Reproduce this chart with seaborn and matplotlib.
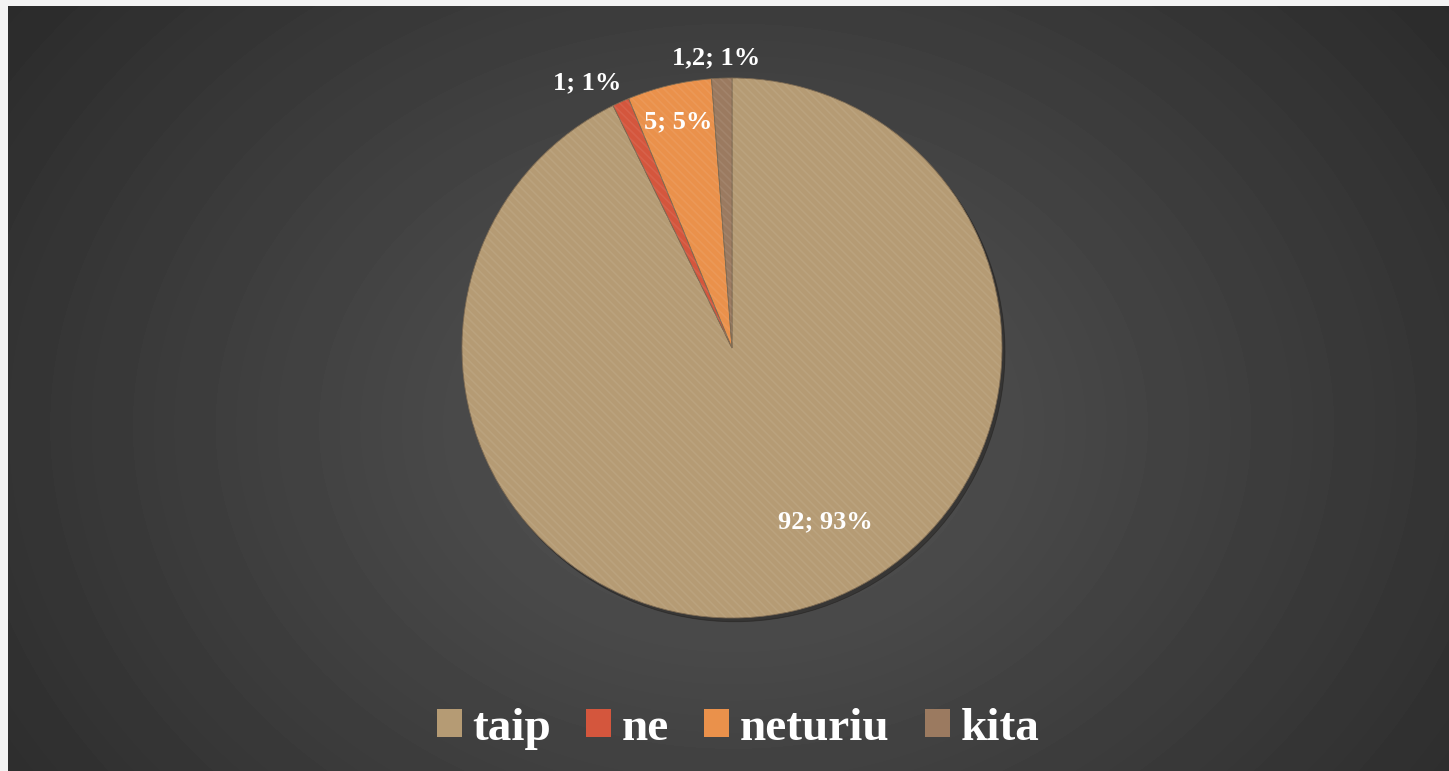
import numpy as np
import matplotlib
matplotlib.use("Agg")
import matplotlib.pyplot as plt
import seaborn as sns
from matplotlib.patches import Patch

# data
categories = ["taip", "ne", "neturiu", "kita"]
values = [92, 1, 5, 1.2]
colors = ["#b59b74", "#d4563d", "#ea914b", "#9b7a60"]

sns.set_style("dark")
plt.rcParams['font.family'] = ['Liberation Serif', 'DejaVu Serif']
plt.rcParams['hatch.linewidth'] = 1.2

fig = plt.figure(figsize=(14.49, 7.71), dpi=100, facecolor="#f3f3f3")

# dark radial gradient background
bg = fig.add_axes([8/1449, 0, 1441/1449, 765/771])
ny, nx = 765, 1441
yy, xx = np.mgrid[0:ny, 0:nx]
d = np.sqrt(((xx - 725) / 900) ** 2 + ((yy - 420) / 700) ** 2)
shade = 0.34 - 0.17 * np.clip(d, 0, 1)
bg.imshow(shade, cmap="gray", vmin=0, vmax=1, aspect="auto", interpolation="bilinear")
bg.axis("off")

# pie
ax = fig.add_axes([462/1449, (771 - 348 - 270)/771, 540/1449, 540/771])
ax.set_facecolor("none")
wedges, _ = ax.pie(values, colors=colors, startangle=90, counterclock=False, radius=1,
                   wedgeprops=dict(edgecolor="#7d6a52", linewidth=0.6),
                   shadow=dict(ox=0.008, oy=-0.01, shade=0.9, alpha=0.35))
# subtle texture
ax.pie(values, colors=["none"] * 4, startangle=90, counterclock=False, radius=1,
       wedgeprops=dict(edgecolor=(1, 1, 1, 0.07), linewidth=0, hatch="\\\\\\\\"))
ax.set_xlim(-1, 1)
ax.set_ylim(-1, 1)
ax.axis("off")

# data labels
total = sum(values)
label_r = [0.73, 1.12, 0.86, 1.075]
label_dtheta = [15.3, 4.3, 0, 1.0]
for w, v, r, dt in zip(wedges, values, label_r, label_dtheta):
    mid = np.deg2rad((w.theta1 + w.theta2) / 2 + dt)
    vtxt = ("%g" % v).replace(".", ",")
    txt = "%s; %d%%" % (vtxt, round(v / total * 100))
    ax.text(r * np.cos(mid), r * np.sin(mid), txt, ha="center", va="center",
            color="white", fontsize=19, fontweight="bold", clip_on=False)

# legend
handles = [Patch(facecolor=c, edgecolor="none") for c in colors]
fig.legend(handles, categories, loc="center", bbox_to_anchor=(738/1449, 1 - 729/771),
           ncol=4, frameon=False, prop=dict(weight="bold", size=34),
           labelcolor="white", handlelength=0.53, handleheight=0.53,
           handletextpad=0.22, columnspacing=0.75)

fig.savefig("out.png", dpi=100, facecolor=fig.get_facecolor())
